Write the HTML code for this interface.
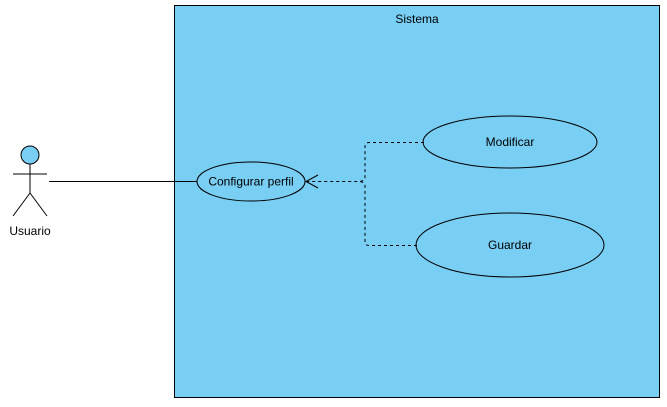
<!DOCTYPE html>
<html><head><style>body{margin:0;background:#fff}</style></head><body>
<svg width="667" height="402" xmlns="http://www.w3.org/2000/svg" font-family="Liberation Sans, sans-serif" font-size="12">
<rect x="174.5" y="5.5" width="485" height="392" fill="#79cef4" stroke="#000"/>
<text x="417" y="23" text-anchor="middle" fill="#000">Sistema</text>
<circle cx="30" cy="155" r="9" fill="#79cef4" stroke="#000"/>
<g stroke="#000" fill="none">
<line x1="30" y1="164" x2="30" y2="193"/>
<line x1="13" y1="174" x2="47" y2="174"/>
<line x1="30" y1="193" x2="13" y2="216"/>
<line x1="30" y1="193" x2="47" y2="216"/>
<line x1="49" y1="181.5" x2="197" y2="181.5"/>
<ellipse cx="251" cy="181.5" rx="54" ry="19.5"/>
<ellipse cx="510" cy="142" rx="87" ry="26"/>
<ellipse cx="510" cy="245" rx="94" ry="32"/>
<path d="M424 142.5 H369 Q365 142.5 365 147 V177 Q365 181.5 358 181.5 H307" stroke-dasharray="3,3"/>
<path d="M417 245.5 H369 Q365 245.5 365 241 V186 Q365 181.5 358 181.5" stroke-dasharray="3,3"/>
<path d="M318 175 L306 181.5 L318 188"/>
</g>
<text x="30" y="235" text-anchor="middle">Usuario</text>
<text x="251" y="185.5" text-anchor="middle">Configurar perfil</text>
<text x="510" y="146" text-anchor="middle">Modificar</text>
<text x="510" y="249" text-anchor="middle">Guardar</text>
</svg>
</body></html>
